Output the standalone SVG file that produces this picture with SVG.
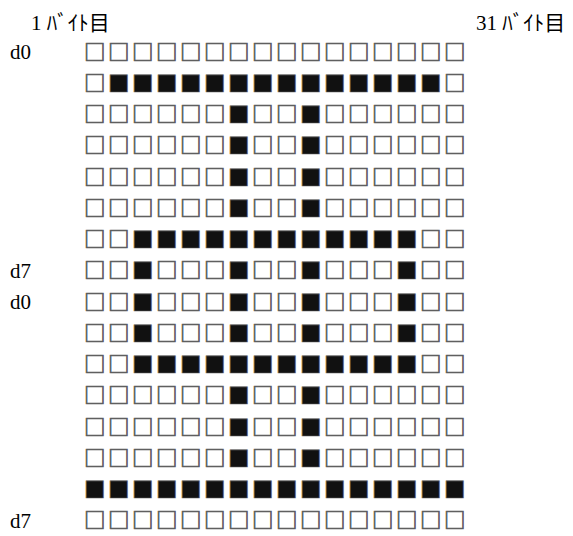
<svg xmlns="http://www.w3.org/2000/svg" width="573" height="536" viewBox="0 0 573 536">
<style>
.lbl{font-family:"Liberation Serif","Noto Sans CJK JP",serif;font-size:21px;fill:#000}
.grid{font-family:"Noto Sans CJK JP",sans-serif;font-size:21.5px;letter-spacing:2.5px;fill:#111;stroke:#666;stroke-width:0.7px}
</style>
<rect width="573" height="536" fill="#fff"/>
<g id="labels">
<text class="lbl" x="31" y="30">1 ﾊﾞｲﾄ目</text>
<text class="lbl" x="476" y="30">31 ﾊﾞｲﾄ目</text>
<text class="lbl" x="10" y="59">d0</text>
<text class="lbl" x="10" y="277.75">d7</text>
<text class="lbl" x="10" y="309">d0</text>
<text class="lbl" x="10" y="527.75">d7</text>
</g>
<g id="grid" class="grid">
<text x="84" y="59.5">□□□□□□□□□□□□□□□□</text>
<text x="84" y="90.75">□■■■■■■■■■■■■■■□</text>
<text x="84" y="122">□□□□□□■□□■□□□□□□</text>
<text x="84" y="153.25">□□□□□□■□□■□□□□□□</text>
<text x="84" y="184.5">□□□□□□■□□■□□□□□□</text>
<text x="84" y="215.75">□□□□□□■□□■□□□□□□</text>
<text x="84" y="247">□□■■■■■■■■■■■■□□</text>
<text x="84" y="278.25">□□■□□□■□□■□□□■□□</text>
<text x="84" y="309.5">□□■□□□■□□■□□□■□□</text>
<text x="84" y="340.75">□□■□□□■□□■□□□■□□</text>
<text x="84" y="372">□□■■■■■■■■■■■■□□</text>
<text x="84" y="403.25">□□□□□□■□□■□□□□□□</text>
<text x="84" y="434.5">□□□□□□■□□■□□□□□□</text>
<text x="84" y="465.75">□□□□□□■□□■□□□□□□</text>
<text x="84" y="497">■■■■■■■■■■■■■■■■</text>
<text x="84" y="528.25">□□□□□□□□□□□□□□□□</text>
</g>
</svg>
